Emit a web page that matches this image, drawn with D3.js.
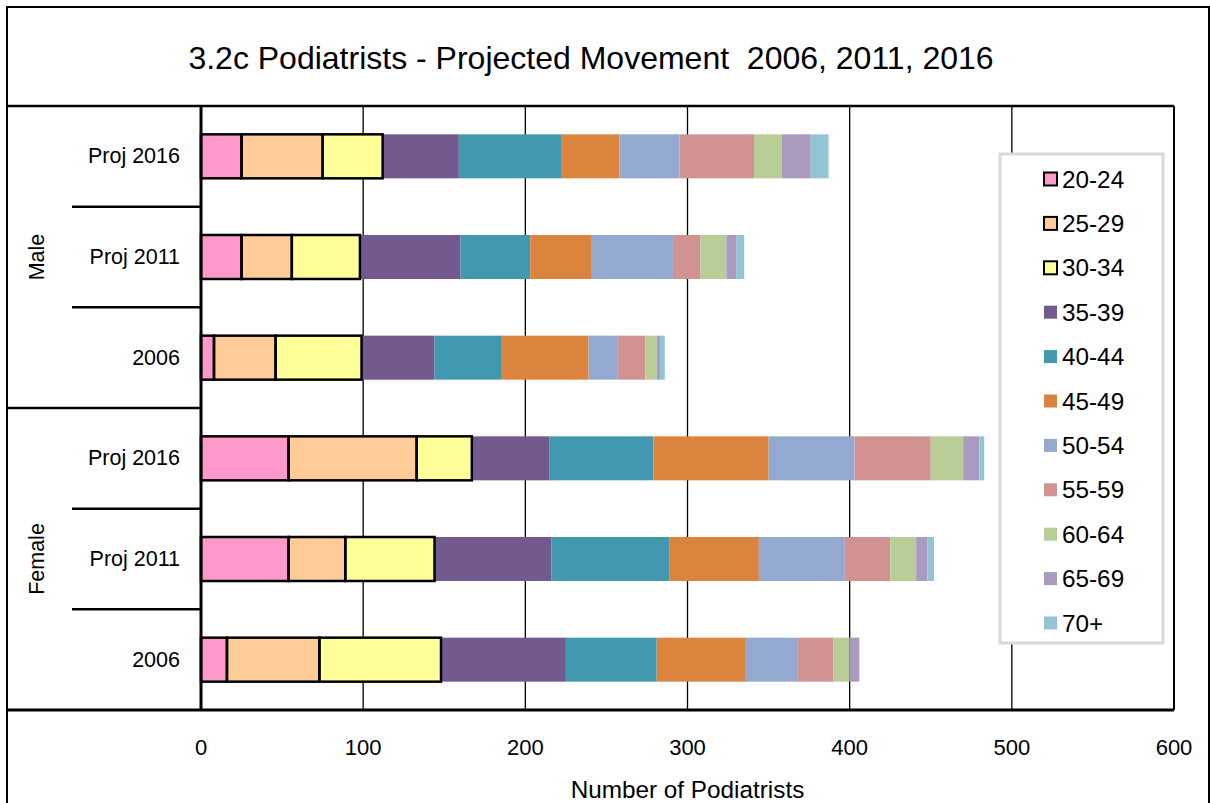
<!DOCTYPE html>
<html>
<head>
<meta charset="utf-8">
<script src="https://cdn.jsdelivr.net/npm/d3@7"></script>
<style>
  html, body { margin: 0; padding: 0; background: #fff; }
  svg { display: block; font-family: "Liberation Sans", Arial, sans-serif; }
</style>
</head>
<body>
<svg id="chart" width="1210" height="803"></svg>
<script>
// ---------- data ----------
const categories = ["Proj 2016", "Proj 2011", "2006", "Proj 2016", "Proj 2011", "2006"];
const groups = ["Male", "Male", "Male", "Female", "Female", "Female"];
const groupNames = ["Male", "Female"];
const ageGroups = ["20-24", "25-29", "30-34", "35-39", "40-44", "45-49", "50-54", "55-59", "60-64", "65-69", "70+"];
// values per age group, rows: Male P2016, Male P2011, Male 2006, Female P2016, Female P2011, Female 2006
const v20_24 = [25, 25, 8, 54, 54, 16];
const v25_29 = [50, 31, 38, 79, 35, 57];
const v30_34 = [37, 42, 53, 34, 55, 75];
const v35_39 = [47, 62, 45, 48, 72, 77];
const v40_44 = [63, 43, 41, 64, 73, 56];
const v45_49 = [36, 38, 54, 71, 55, 55];
const v50_54 = [37, 50, 18, 53, 53, 32];
const v55_59 = [46, 17, 17, 47, 28, 22];
const v60_64 = [17, 16, 7, 20, 16, 10];
const v65_69 = [18, 6, 2, 10, 7, 6];
const v70p = [11, 5, 3, 3, 4, 0];
const xTicks = [0, 100, 200, 300, 400, 500, 600];
const titleText = "3.2c Podiatrists - Projected Movement  2006, 2011, 2016";
const xTitle = "Number of Podiatrists";

const seriesValues = [v20_24, v25_29, v30_34, v35_39, v40_44, v45_49, v50_54, v55_59, v60_64, v65_69, v70p];
const colors = ["#FF99CC", "#FFCC99", "#FFFF99", "#725A8E", "#4298AF", "#DB843D", "#94A9CF", "#D19392", "#B9CD96", "#A99BBD", "#93C4D4"];
const outlined = [true, true, true, false, false, false, false, false, false, false, false];

// ---------- layout ----------
const L = 201, R = 1174, T = 106, B = 710;
const svg = d3.select("#chart");

const rows = categories.map((c, i) => {
  const o = { key: i, cat: c, group: groups[i] };
  ageGroups.forEach((a, j) => { o[a] = seriesValues[j][i]; });
  return o;
});

const x = d3.scaleLinear().domain([0, 600]).range([L, R]);
const y = d3.scaleBand().domain(rows.map(r => r.key)).range([T, B]).paddingInner(0.563).paddingOuter(0.2815);
const step = y.step();

// outer frame
svg.append("rect").attr("x", 7).attr("y", 7).attr("width", 1202).attr("height", 820)
  .attr("fill", "none").attr("stroke", "#000").attr("stroke-width", 2);

// title
svg.append("text").attr("x", 591).attr("y", 58).attr("text-anchor", "middle")
  .attr("dominant-baseline", "central").attr("font-size", 32).attr("fill", "#000")
  .attr("xml:space", "preserve").text(titleText);

// gridlines
svg.append("g").selectAll("line").data(xTicks.filter(t => t > 0)).join("line")
  .attr("x1", d => x(d)).attr("x2", d => x(d)).attr("y1", T).attr("y2", B)
  .attr("stroke", "#000").attr("stroke-width", d => d === 600 ? 2 : 1.3);

// stacked bars
const stack = d3.stack().keys(ageGroups);
const stacked = stack(rows);
const barG = svg.append("g");
stacked.forEach((s, j) => {
  barG.append("g").selectAll("rect").data(s).join("rect")
    .attr("x", d => x(d[0])).attr("width", d => Math.max(0, x(d[1]) - x(d[0])))
    .attr("y", d => y(d.data.key)).attr("height", y.bandwidth())
    .attr("fill", colors[j]);
});
// outlines for the first three series
stacked.forEach((s, j) => {
  if (!outlined[j]) return;
  barG.append("g").selectAll("rect").data(s.filter(d => d[1] > d[0])).join("rect")
    .attr("x", d => x(d[0])).attr("width", d => x(d[1]) - x(d[0]))
    .attr("y", d => y(d.data.key)).attr("height", y.bandwidth())
    .attr("fill", "none").attr("stroke", "#000").attr("stroke-width", 2.5);
});

// plot frame lines
svg.append("line").attr("x1", 7).attr("x2", R).attr("y1", T).attr("y2", T).attr("stroke", "#000").attr("stroke-width", 2.5);
svg.append("line").attr("x1", 7).attr("x2", R).attr("y1", B).attr("y2", B).attr("stroke", "#000").attr("stroke-width", 3);
svg.append("line").attr("x1", L).attr("x2", L).attr("y1", T).attr("y2", B).attr("stroke", "#000").attr("stroke-width", 3);

// category separators
for (let k = 1; k < categories.length; k++) {
  const yy = T + k * step;
  const groupBoundary = groups[k] !== groups[k - 1];
  svg.append("line").attr("x1", groupBoundary ? 7 : 72).attr("x2", L)
    .attr("y1", yy).attr("y2", yy).attr("stroke", "#000").attr("stroke-width", 2.5);
}

// category labels
svg.append("g").selectAll("text").data(rows).join("text")
  .attr("x", 180).attr("y", d => y(d.key) + y.bandwidth() / 2)
  .attr("text-anchor", "end").attr("dominant-baseline", "central")
  .attr("font-size", 21.5).attr("fill", "#000").text(d => d.cat);

// group labels
groupNames.forEach(g => {
  const idx = rows.filter(r => r.group === g).map(r => r.key);
  const y0 = T + d3.min(idx) * step, y1 = T + (d3.max(idx) + 1) * step;
  const cy = (y0 + y1) / 2;
  svg.append("text").attr("transform", `translate(37,${cy}) rotate(-90)`)
    .attr("text-anchor", "middle").attr("dominant-baseline", "central")
    .attr("font-size", 21.5).attr("fill", "#000").text(g);
});

// x tick labels
svg.append("g").selectAll("text").data(xTicks).join("text")
  .attr("x", d => x(d)).attr("y", 747).attr("text-anchor", "middle")
  .attr("dominant-baseline", "central").attr("font-size", 22).attr("fill", "#000")
  .text(d => d);

// x axis title
svg.append("text").attr("x", (L + R) / 2).attr("y", 789).attr("text-anchor", "middle")
  .attr("dominant-baseline", "central").attr("font-size", 24.3).attr("fill", "#000").text(xTitle);

// legend
const lg = svg.append("g");
lg.append("rect").attr("x", 1000).attr("y", 154).attr("width", 163).attr("height", 489)
  .attr("fill", "#fff").attr("stroke", "#D9D9D9").attr("stroke-width", 3);
const item = lg.selectAll("g.item").data(ageGroups).join("g").attr("class", "item")
  .attr("transform", (d, i) => `translate(0,${179 + i * 44.4})`);
item.append("rect").attr("x", 1044).attr("y", -6.5).attr("width", 13).attr("height", 13)
  .attr("fill", (d, i) => colors[i])
  .attr("stroke", (d, i) => outlined[i] ? "#000" : "none").attr("stroke-width", 2);
item.append("text").attr("x", 1062).attr("y", 0).attr("dominant-baseline", "central")
  .attr("font-size", 24.3).attr("fill", "#000").text(d => d);
</script>
</body>
</html>
